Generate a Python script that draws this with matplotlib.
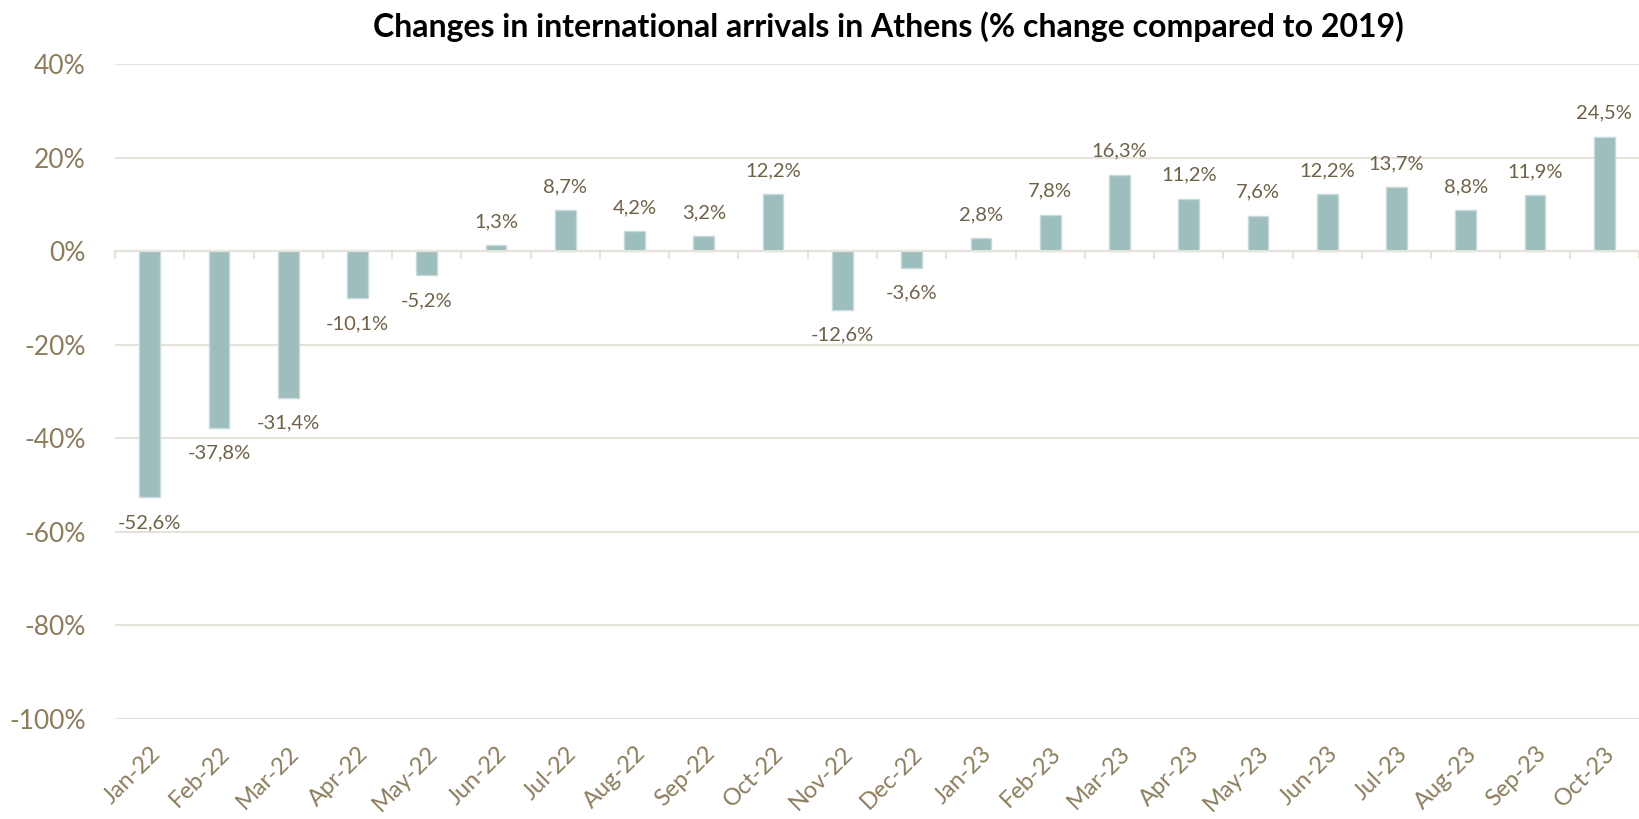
import matplotlib.pyplot as plt
import matplotlib.ticker as mticker
import numpy as np

plt.rcParams['font.family'] = ['Lato', 'DejaVu Sans']

months = ['Jan-22', 'Feb-22', 'Mar-22', 'Apr-22', 'May-22', 'Jun-22', 'Jul-22',
          'Aug-22', 'Sep-22', 'Oct-22', 'Nov-22', 'Dec-22', 'Jan-23', 'Feb-23',
          'Mar-23', 'Apr-23', 'May-23', 'Jun-23', 'Jul-23', 'Aug-23', 'Sep-23',
          'Oct-23']
change = [-52.6, -37.8, -31.4, -10.1, -5.2, 1.3, 8.7, 4.2, 3.2, 12.2, -12.6, -3.6,
          2.8, 7.8, 16.3, 11.2, 7.6, 12.2, 13.7, 8.8, 11.9, 24.5]

bar_col = '#9DBEBD'
grid_col = '#E6E3DA'
tick_col = '#8C7D5D'
lab_col = '#6E6147'

fig = plt.figure(figsize=(16.39, 8.19), dpi=100)
ax = fig.add_axes([115 / 1639, 1 - 719 / 819, 1 - 115 / 1639, (719 - 64) / 819])

x = np.arange(len(months))
vals = np.array(change) / 100
ax.bar(x, vals, width=0.3, color=bar_col, edgecolor='#C8DBDA', linewidth=1, zorder=3)

for xi, v in zip(x, change):
    txt = f"{v:.1f}%".replace('.', ',')
    if v >= 0:
        ax.annotate(txt, (xi, v / 100), xytext=(0, 13), textcoords='offset points',
                    ha='center', va='baseline', fontsize=14.5, color=lab_col)
    else:
        ax.annotate(txt, (xi, v / 100), xytext=(0, -12), textcoords='offset points',
                    ha='center', va='top', fontsize=14.5, color=lab_col)

ax.set_xlim(-0.5, len(months) - 0.5)
ax.set_ylim(-1.0, 0.4)
ax.set_yticks(np.arange(-1.0, 0.41, 0.2))
ax.yaxis.set_major_formatter(mticker.FuncFormatter(lambda v, p: f"{round(v * 100) + 0:.0f}%"))
ax.grid(axis='y', color=grid_col, linewidth=1.5, zorder=0)

# zero line with category separators
for s in ['left', 'right', 'bottom']:
    ax.spines[s].set_visible(False)
ax.spines['top'].set_position(('data', 0))
ax.spines['top'].set_color(grid_col)
ax.spines['top'].set_linewidth(1.5)
ax.spines['top'].set_zorder(4)

ax.set_xticks(x)
ax.set_xticklabels(months, rotation=45, ha='right', va='top', rotation_mode='anchor')
ax.set_xticks(np.arange(-0.5, len(months), 1), minor=True)
ax.tick_params(axis='x', which='major', length=0, pad=17, labelsize=17, labelcolor=tick_col)
ax.tick_params(axis='x', which='minor', top=True, bottom=False, direction='in',
               length=6, width=1.5, color=grid_col)
ax.tick_params(axis='y', length=0, pad=21, labelsize=19, labelcolor=tick_col)

fig.text(888 / 1639, 1 - 37 / 819,
         'Changes in international arrivals in Athens (% change compared to 2019)',
         ha='center', va='baseline', fontsize=23, fontweight='bold', color='black')

fig.savefig('out.png', dpi=100)
